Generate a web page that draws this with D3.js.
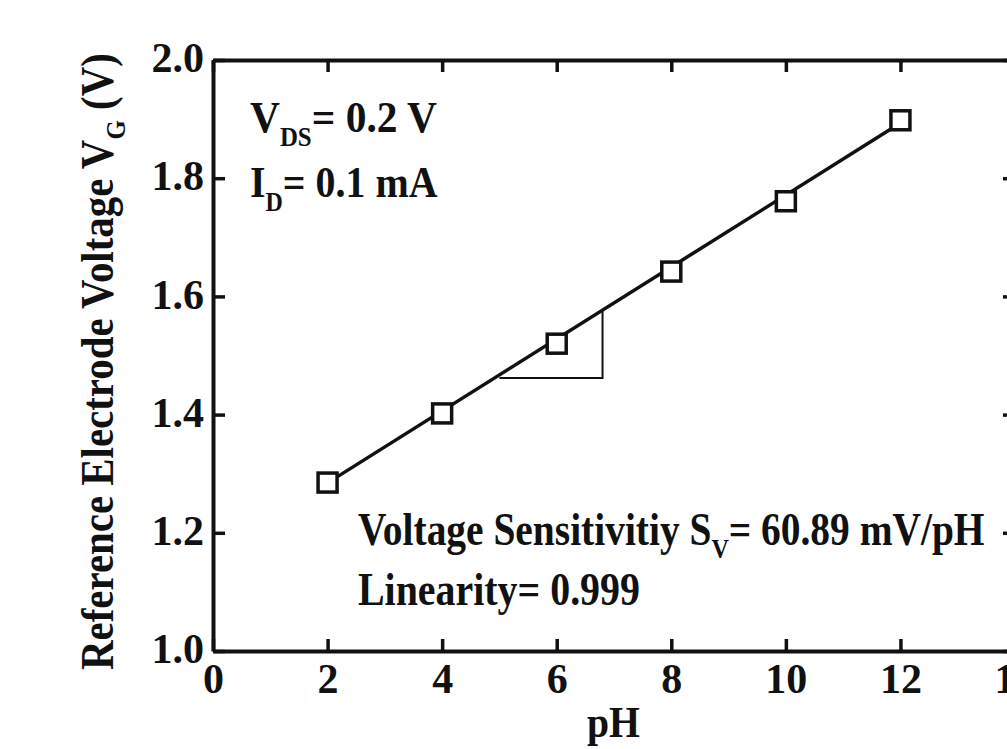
<!DOCTYPE html>
<html>
<head>
<meta charset="utf-8">
<script src="https://cdn.jsdelivr.net/npm/d3@7"></script>
<style>
  html, body { margin: 0; padding: 0; background: #fff; }
  svg text { font-family: "Liberation Serif", "Times New Roman", serif; font-weight: bold; fill: #111; }
</style>
</head>
<body>
<svg id="chart" width="1007" height="749"></svg>
<script>
// Measured gate voltage versus pH
const pH = [2, 4, 6, 8, 10, 12];
const vg = [1.285, 1.402, 1.520, 1.642, 1.761, 1.898];
// Linear fit: slope 60.89 mV/pH
const slope = 0.06089;
const intercept = 1.1627;
const xTicks = [0, 2, 4, 6, 8, 10, 12, 14];
const yTicks = [1.0, 1.2, 1.4, 1.6, 1.8, 2.0];
// Slope triangle corners (pH)
const triX = [5.0, 6.8];

const svg = d3.select("#chart");
const plotL = 213, plotR = 1015, plotT = 60, plotB = 651;

const x = d3.scaleLinear().domain([0, 14]).range([plotL, plotR]);
const y = d3.scaleLinear().domain([1.0, 2.0]).range([plotB, plotT]);

const ink = "#111";
const tickLen = 12;

// Axes (ticks pointing inward)
const gx = svg.append("g").attr("transform", `translate(0,${plotB})`)
  .call(d3.axisBottom(x).tickValues(xTicks).tickSizeInner(-tickLen).tickSizeOuter(0).tickFormat(d3.format("d")));
const gxTop = svg.append("g").attr("transform", `translate(0,${plotT})`)
  .call(d3.axisTop(x).tickValues(xTicks).tickSizeInner(-tickLen).tickSizeOuter(0).tickFormat(""));
const gy = svg.append("g").attr("transform", `translate(${plotL},0)`)
  .call(d3.axisLeft(y).tickValues(yTicks).tickSizeInner(-tickLen).tickSizeOuter(0).tickFormat(d3.format(".1f")));
const gyR = svg.append("g").attr("transform", `translate(${plotR},0)`)
  .call(d3.axisRight(y).tickValues(yTicks).tickSizeInner(-tickLen).tickSizeOuter(0).tickFormat(""));

[gx, gxTop, gy, gyR].forEach(g => {
  g.select(".domain").attr("stroke", ink).attr("stroke-width", 4);
  g.selectAll(".tick line").attr("stroke", ink).attr("stroke-width", 3.5);
  g.selectAll(".tick text").style("font-size", "42px").attr("fill", ink);
});
gy.selectAll(".tick text").attr("x", -9).attr("dy", "0.28em");
gx.selectAll(".tick text").attr("y", 42).attr("dy", 0);

// Fit line through the data range
svg.append("line")
  .attr("x1", x(pH[0])).attr("y1", y(slope * pH[0] + intercept))
  .attr("x2", x(pH[pH.length - 1])).attr("y2", y(slope * pH[pH.length - 1] + intercept))
  .attr("stroke", ink).attr("stroke-width", 3.5);

// Slope triangle
svg.append("path")
  .attr("d", `M${x(triX[0])},${y(slope * triX[0] + intercept) + 3}` +
             `H${x(triX[1])}V${y(slope * triX[1] + intercept)}`)
  .attr("fill", "none").attr("stroke", ink).attr("stroke-width", 2);

// Square markers
const sz = 19;
svg.append("g").selectAll("rect").data(pH).join("rect")
  .attr("x", (d) => x(d) - sz / 2)
  .attr("y", (d, i) => y(vg[i]) - sz / 2)
  .attr("width", sz).attr("height", sz)
  .attr("fill", "#fff").attr("stroke", ink).attr("stroke-width", 3.5);

// Text with optional subscripts, squeezed horizontally to a given width
function label(parts, size, subSize, subShift) {
  const t = svg.append("text").attr("x", 0).attr("y", 0).style("font-size", size + "px");
  parts.forEach(p => {
    const s = t.append("tspan").text(p.t);
    if (p.sub) s.attr("dy", subShift).style("font-size", subSize + "px");
    if (p.back) s.attr("dy", -subShift);
  });
  return t;
}
function place(t, xp, yp, width, rot) {
  const w = t.node().getBBox().width;
  const k = width / w;
  t.attr("transform", `translate(${xp},${yp})${rot ? " rotate(" + rot + ")" : ""} scale(${k},1)`);
}

place(label([{t: "V"}, {t: "DS", sub: true}, {t: "= 0.2 V", back: true}], 45, 27, 14), 250, 132, 187);
place(label([{t: "I"}, {t: "D", sub: true}, {t: "= 0.1 mA", back: true}], 45, 27, 14), 250, 197, 188);
place(label([{t: "Voltage Sensitivitiy S"}, {t: "V", sub: true}, {t: "= 60.89 mV/pH", back: true}], 46, 28, 13), 358, 545, 627);
place(label([{t: "Linearity= 0.999"}], 46, 28, 13), 358, 605, 282);

// Axis titles
place(label([{t: "pH"}], 45, 28, 0), 587, 737, 53);
place(label([{t: "Reference Electrode Voltage V"}, {t: "G", sub: true}, {t: " (V)", back: true}], 46, 28, 12), 113, 670, 617, -90);
</script>
</body>
</html>
